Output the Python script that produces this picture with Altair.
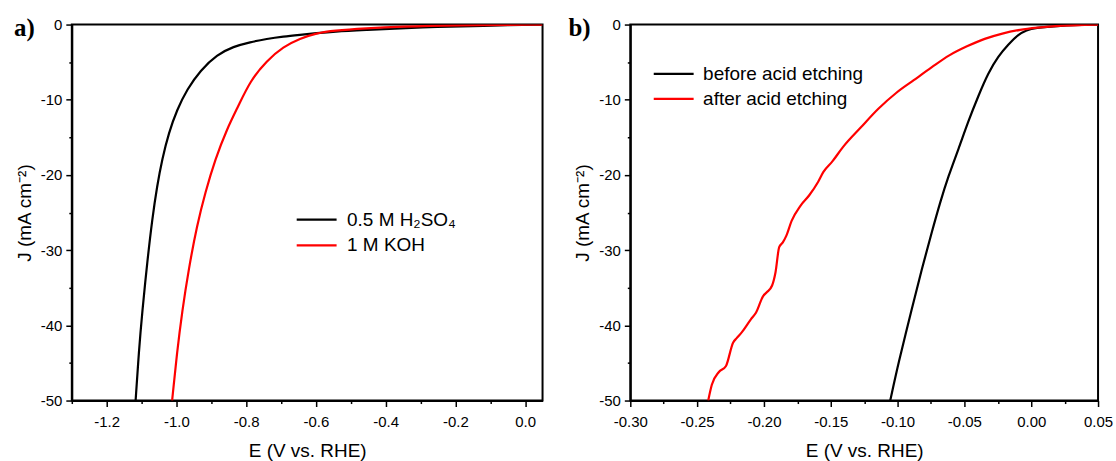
import altair as alt
import pandas as pd

# ---------------- Panel a data ----------------
E_acid = [-1.117, -1.1077, -1.098, -1.0837, -1.0695, -1.0552, -1.0409, -1.022,
          -0.998, -0.9694, -0.9314, -0.8837, -0.8363, -0.7886, -0.7409, -0.6934,
          -0.6457, -0.598, -0.5506, -0.4551, -0.36, -0.25, -0.15, -0.05, 0.05]
J_acid = [-50, -43.5, -38.2, -31.6, -25.9, -21.4, -17.9, -14.4,
          -11.3, -8.6, -6.1, -4.0, -2.92, -2.34, -1.9, -1.59,
          -1.37, -1.15, -0.93, -0.70, -0.49, -0.32, -0.2, -0.08, 0]
E_koh = [-1.0123, -0.998, -0.9837, -0.9648, -0.9409, -0.9171, -0.8886, -0.8552,
         -0.822, -0.7886, -0.7409, -0.6934, -0.6457, -0.598, -0.5506, -0.4551,
         -0.36, -0.2, 0.05]
J_koh = [-50, -43.5, -38.2, -32.5, -26.7, -22.3, -17.9, -13.9,
         -10.8, -7.5, -4.8, -2.95, -1.85, -1.15, -0.8, -0.49,
         -0.27, -0.1, 0]
labels_a = ["0.5 M H\u2082SO\u2084", "1 M KOH"]

# ---------------- Panel b data ----------------
E_before = [-0.1055, -0.0993, -0.0893, -0.0819, -0.0744, -0.0681, -0.0619, -0.0545,
            -0.0470, -0.0396, -0.0321, -0.0246, -0.0172, -0.0097, -0.0035, 0.0027,
            0.02, 0.05]
J_before = [-50, -44.9, -37.8, -32.5, -27.6, -23.6, -20.1, -16.6,
            -12.8, -9.5, -6.4, -4.2, -2.65, -1.33, -0.75, -0.45,
            -0.15, 0]
E_after = [-0.2417, -0.239, -0.2337, -0.2284, -0.2231, -0.2204, -0.2165, -0.2098,
           -0.2059, -0.2006, -0.1979, -0.1939, -0.1913, -0.1886, -0.186, -0.1833,
           -0.1793, -0.1727, -0.1661, -0.1594, -0.1555, -0.1488, -0.1409, -0.1276,
           -0.1144, -0.1011, -0.0879, -0.0746, -0.0613, -0.0481, -0.0348, -0.0216,
           -0.0083, 0.005, 0.018, 0.05]
J_after = [-50, -47.9, -46.2, -45.4, -42.3, -41.7, -40.9, -39.2,
           -38.3, -36.1, -35.6, -34.7, -32.9, -29.6, -29.0, -28.1,
           -26.1, -24.1, -22.7, -20.9, -19.6, -18.2, -16.3, -13.7,
           -11.2, -9.1, -7.4, -5.7, -4.1, -2.9, -1.9, -1.2,
           -0.7, -0.4, -0.2, 0]
labels_b = ["before acid etching", "after acid etching"]

# ticks
xa_major = [-1.2, -1.0, -0.8, -0.6, -0.4, -0.2, 0.0]
xa_minor = [-1.3, -1.1, -0.9, -0.7, -0.5, -0.3, -0.1]
xb_major = [-0.30, -0.25, -0.20, -0.15, -0.10, -0.05, 0.00, 0.05]
xb_minor = [-0.275, -0.225, -0.175, -0.125, -0.075, -0.025, 0.025]
y_major = [0, -10, -20, -30, -40, -50]
y_minor = [-5, -15, -25, -35, -45]

FONT = "Liberation Sans"
FIX = "replace(datum.label, '\u2212', '-')"


def frame(E1, J1, E2, J2, names):
    rows = []
    for i, (e, j) in enumerate(zip(E1, J1)):
        rows.append({"E": e, "J": j, "s": names[0], "i": i})
    for i, (e, j) in enumerate(zip(E2, J2)):
        rows.append({"E": e, "J": j, "s": names[1], "i": i})
    return pd.DataFrame(rows)


def panel(df, names, xdom, xmaj, xmin, xfmt, lx, ly, loff, rowpad, tag, tagx, w, h,
          interp):
    xscale = alt.Scale(domain=xdom, nice=False, zero=False)
    yscale = alt.Scale(domain=[-50, 0], nice=False, zero=False)
    cscale = alt.Scale(domain=names, range=["black", "#ff0000"])
    xmajor = alt.Axis(values=xmaj, format=xfmt, labelExpr=FIX, grid=False,
                      tickSize=6, tickWidth=1.5, tickColor="black",
                      domainColor="black", domainWidth=2,
                      labelFont=FONT, labelFontSize=15, labelColor="black",
                      labelFlush=False, labelOverlap=False, labelPadding=8,
                      title="E (V vs. RHE)", titleFont=FONT, titleFontSize=19,
                      titleFontWeight="normal", titleColor="black", titlePadding=12,
                      orient="bottom")
    ymajor = alt.Axis(values=y_major, format="d", labelExpr=FIX, grid=False,
                      tickSize=6, tickWidth=1.5, tickColor="black",
                      domainColor="black", domainWidth=2,
                      labelFont=FONT, labelFontSize=15, labelColor="black",
                      labelFlush=False, labelOverlap=False, labelPadding=4,
                      title="J (mA cm\u207b\u00b2)", titleFont=FONT, titleFontSize=19,
                      titleFontWeight="normal", titleColor="black", titlePadding=6,
                      orient="left")
    legend = alt.Legend(orient="none", legendX=lx, legendY=ly, title=None,
                        symbolType="M-2,0H2", symbolSize=400,
                        symbolStrokeWidth=2.2, labelFont=FONT,
                        labelFontSize=19, labelColor="black",
                        labelOffset=loff, rowPadding=rowpad,
                        padding=0, labelLimit=400)
    layers = []
    for k, name in enumerate(names):
        sub = df[df["s"] == name]
        layers.append(
            alt.Chart(sub).mark_line(strokeWidth=2.2, clip=True,
                                     interpolate=interp[k]).encode(
                x=alt.X("E:Q", scale=xscale, axis=xmajor),
                y=alt.Y("J:Q", scale=yscale, axis=ymajor),
                color=alt.Color("s:N", scale=cscale, legend=legend),
                order="i:Q",
            )
        )
    lines = alt.layer(*layers)
    minor = alt.Chart(df).mark_line(strokeOpacity=0).encode(
        x=alt.X("E:Q", scale=xscale,
                axis=alt.Axis(values=xmin, labels=False, tickSize=3, tickWidth=1.5,
                              tickColor="black", domain=False, grid=False, title=None,
                              orient="bottom")),
        y=alt.Y("J:Q", scale=yscale,
                axis=alt.Axis(values=y_minor, labels=False, tickSize=3, tickWidth=1.5,
                              tickColor="black", domain=False, grid=False, title=None,
                              orient="left")),
        detail="s:N",
    )
    label = alt.Chart(pd.DataFrame({"t": [tag]})).mark_text(
        font="Liberation Serif", fontSize=25, fontWeight="bold", align="left",
        baseline="alphabetic", color="black"
    ).encode(x=alt.value(tagx), y=alt.value(11), text="t:N")
    return alt.layer(lines, minor, label).resolve_axis(
        x="independent", y="independent").properties(width=w, height=h)


dfa = frame(E_acid, J_acid, E_koh, J_koh, labels_a)
dfb = frame(E_before, J_before, E_after, J_after, labels_b)

pa = panel(dfa, labels_a, [-1.3, 0.05], xa_major, xa_minor, ".1f",
           234, 184, 19, 4, "a)", -58, 472, 377, ["basis", "basis"])
pb = panel(dfb, labels_b, [-0.30, 0.05], xb_major, xb_minor, ".2f",
           32, 38, 18, 3, "b)", -62, 469, 377, ["basis", "monotone"])

chart = alt.hconcat(pa, pb, spacing=88, bounds="flush").resolve_scale(
    color="independent").resolve_legend(color="independent").configure_view(
    stroke="black", strokeWidth=2).properties(
    padding={"left": 13, "top": 14, "right": 2, "bottom": 2},
    background="white")

chart.save("out.html", embed_options={"renderer": "svg", "actions": False})
